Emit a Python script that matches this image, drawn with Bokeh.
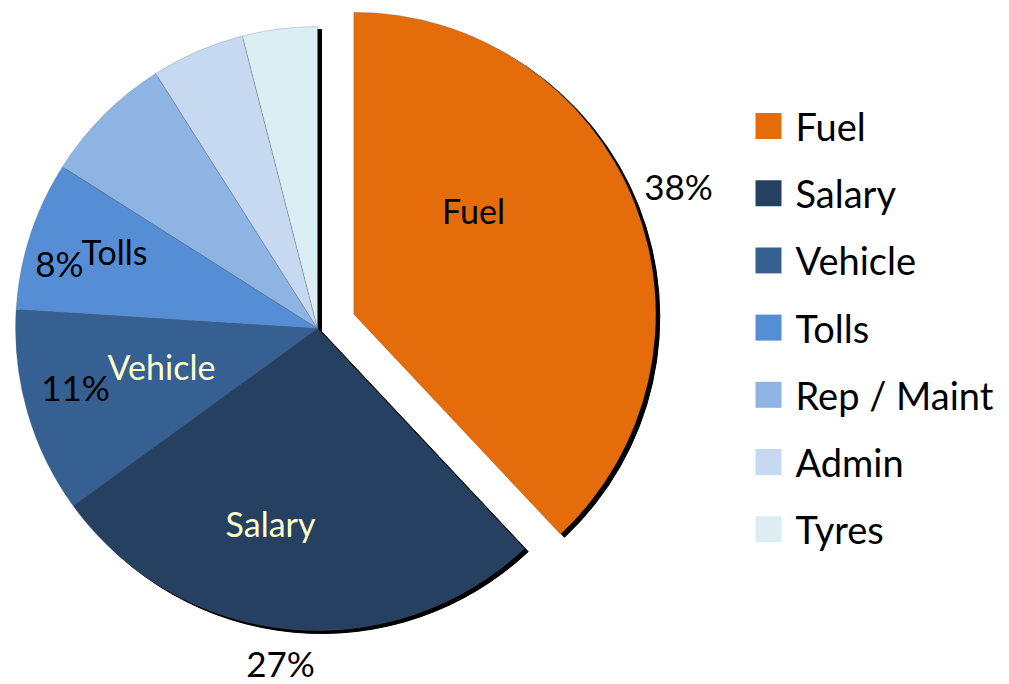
import math
import numpy as np
from bokeh.plotting import figure
from bokeh.models import Range1d, ColumnDataSource
from bokeh.core.properties import value
from bokeh.embed import file_html
from bokeh.resources import INLINE

# ---- data ----
categories = ["Fuel", "Salary", "Vehicle", "Tolls", "Rep / Maint", "Admin", "Tyres"]
shares = [38, 27, 11, 8, 7, 5, 4]
colors = ["#E46C0A", "#254061", "#376092", "#558ED5", "#8EB4E3", "#C6D9F1", "#DBEEF4"]
exploded = [1, 0, 0, 0, 0, 0, 0]

# inside-name labels and percent labels (only some slices labelled)
name_labels = ["Fuel", "Salary", "Vehicle", "Tolls"]
pct_labels = ["38%", "27%", "11%", "8%"]

FONT = "Lato"
W, H = 1009, 684
PAGE = 684


def Y(sy):
    return PAGE - sy


p = figure(width=W, height=H, x_range=Range1d(0, W),
           y_range=Range1d(PAGE - H, PAGE),
           output_backend="svg", toolbar_location=None, min_border=0)
p.axis.visible = False
p.grid.visible = False
p.outline_line_color = None
p.background_fill_color = "white"
p.border_fill_color = "white"

# ---- pie geometry ----
cx, cy = 317, Y(328)
R = 302
explode_dist = 39
total = float(sum(shares))
cum = np.cumsum([0] + shares)
start = [math.pi / 2 - 2 * math.pi * cum[i] / total for i in range(len(shares))]
end = [math.pi / 2 - 2 * math.pi * cum[i + 1] / total for i in range(len(shares))]
mid = [(s + e) / 2 for s, e in zip(start, end)]
xs = [cx + explode_dist * ex * math.cos(m) for ex, m in zip(exploded, mid)]
ys = [cy + explode_dist * ex * math.sin(m) for ex, m in zip(exploded, mid)]

src = ColumnDataSource(dict(x=xs, y=ys, sx=[v + 4 for v in xs], sy=[v - 3 for v in ys],
                            start=start, end=end, color=colors, cat=categories))

# shadow
p.wedge(x="sx", y="sy", radius=R, start_angle="start", end_angle="end",
        direction="clock", source=src, fill_color="black", line_color="black",
        line_width=1)
# slices
p.wedge(x="x", y="y", radius=R, start_angle="start", end_angle="end",
        direction="clock", source=src, fill_color="color", line_color="#5a6a80",
        line_alpha=0.35, line_width=0.8)

# ---- labels ----
name_pos = [(473, 210), (270, 523), (161, 366), (114, 251)]
name_col = ["black", "#FFFFC8", "#FFFFC8", "black"]
pct_pos = [(678, 185), (280, 662), (75, 386), (59, 262)]

p.text(x=[a for a, b in name_pos], y=[Y(b) for a, b in name_pos], text=name_labels,
       text_color=name_col, text_font=value(FONT), text_font_size="34px",
       text_align="center", text_baseline="middle")
p.text(x=[a for a, b in pct_pos], y=[Y(b) for a, b in pct_pos], text=pct_labels,
       text_color="black", text_font=value(FONT), text_font_size="35px",
       text_align="center", text_baseline="middle")

# ---- legend ----
leg_y = [Y(125.5 + 67.2 * i) for i in range(len(categories))]
p.rect(x=[768] * len(categories), y=leg_y, width=26, height=26,
       width_units="screen", height_units="screen",
       fill_color=colors, line_color=None)
p.text(x=[795] * len(categories), y=leg_y, text=categories, text_color="black",
       text_font=value(FONT), text_font_size="38px", text_align="left",
       text_baseline="middle")

open("out.html", "w").write(file_html(p, INLINE))
